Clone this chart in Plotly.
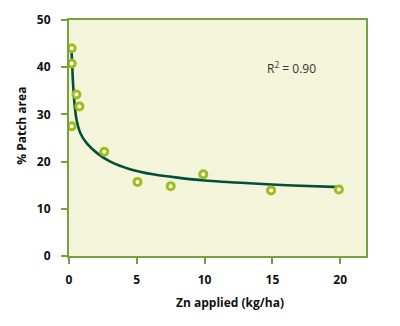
import plotly.graph_objects as go

# Data
zn_applied = [0.2, 0.2, 0.55, 0.77, 0.2, 2.6, 5.05, 7.5, 9.9, 14.9, 19.9]
patch_area = [44.0, 40.8, 34.2, 31.7, 27.5, 22.1, 15.7, 14.8, 17.3, 13.9, 14.1]

# Fitted trend curve
curve_x = [0.17, 0.22, 0.28, 0.35, 0.43, 0.56, 0.84, 1.33, 2.07, 3.05, 4.5, 6.2, 8.0, 10.0, 13.3, 16.5, 20.0]
curve_y = [44.3, 41.5, 37.5, 34.3, 31.6, 28.8, 26.0, 23.8, 21.8, 20.0, 18.4, 17.3, 16.6, 16.0, 15.4, 14.95, 14.6]

x_ticks = [0, 5, 10, 15, 20]
y_ticks = [0, 10, 20, 30, 40, 50]
r2_label = "R<sup>2</sup> = 0.90"

green_axis = "#74a33d"
fig = go.Figure()
fig.add_trace(go.Scatter(x=curve_x, y=curve_y, mode="lines",
                         line=dict(color="#00503c", width=2.6, shape="spline", smoothing=0.8),
                         hoverinfo="skip", showlegend=False))
fig.add_trace(go.Scatter(x=zn_applied, y=patch_area, mode="markers",
                         marker=dict(size=7, color="white",
                                     line=dict(color="#9dbd1d", width=3)),
                         showlegend=False))

bold = dict(family="Open Sans", size=12, color="#111111", weight="bold")
fig.update_layout(
    width=400, height=326,
    margin=dict(l=69, r=34, t=20, b=70),
    paper_bgcolor="white", plot_bgcolor="#f4f4da",
    xaxis=dict(range=[0, 21.9], tickvals=x_ticks, showgrid=False, zeroline=False,
               showline=True, linecolor=green_axis, linewidth=2, mirror=True,
               ticks="outside", ticklen=6, tickwidth=2, tickcolor=green_axis,
               tickfont=bold, ticklabelstandoff=6),
    yaxis=dict(range=[0, 50], tickvals=y_ticks, showgrid=False, zeroline=False,
               showline=True, linecolor=green_axis, linewidth=2, mirror=True,
               ticks="outside", ticklen=6, tickwidth=2, tickcolor=green_axis,
               tickfont=bold, ticklabelstandoff=8),
    annotations=[
        dict(text=r2_label, x=16.4, y=39.8, xref="x", yref="y", showarrow=False,
             font=dict(family="Open Sans", size=12, color="#333333")),
        dict(text="Zn applied (kg/ha)", x=0.542, y=-0.199, xref="paper", yref="paper",
             showarrow=False, font=bold, xanchor="center", yanchor="middle"),
        dict(text="% Patch area", x=-0.159, y=0.551, xref="paper", yref="paper",
             showarrow=False, font=bold, textangle=-90, xanchor="center", yanchor="middle"),
    ],
)
fig.write_html("out.html")
